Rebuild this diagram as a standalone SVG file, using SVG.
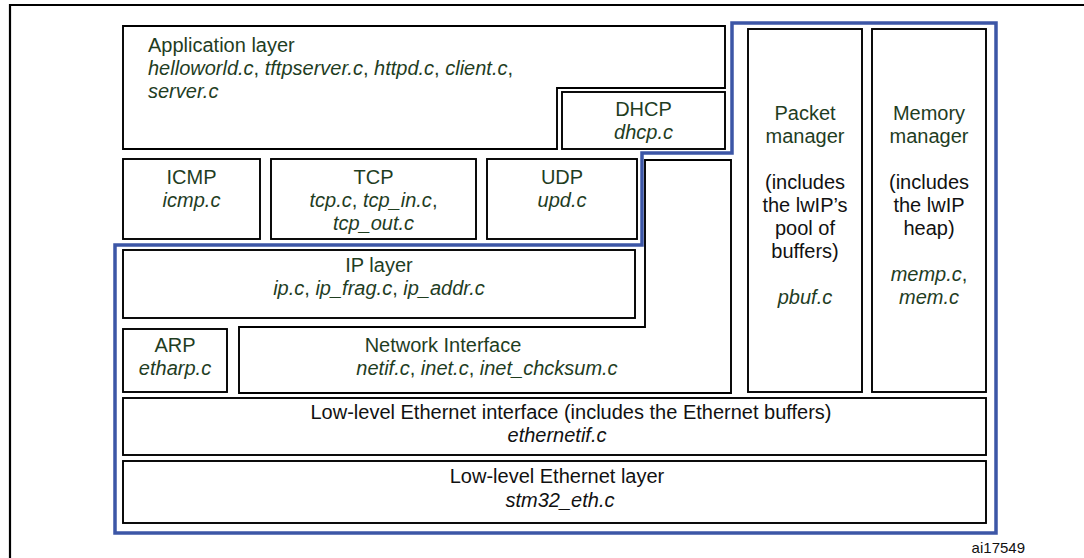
<svg xmlns="http://www.w3.org/2000/svg" width="1084" height="558" viewBox="0 0 1084 558">
<style>
text{font-family:"Liberation Sans",Arial,sans-serif;font-size:20px;fill:#1f3d1f}
.c{text-anchor:middle}
.i{font-style:italic}
.k{fill:#111}
.box{fill:#fff;stroke:#000;stroke-width:1.9}
.frame{fill:none;stroke:#000;stroke-width:2.2}
.blue{fill:none;stroke:#3c56a6;stroke-width:3.5}
</style>
<rect width="1084" height="558" fill="#fff"/>
<path class="frame" d="M10 558 V5 H1084"/>

<g id="application">
<path class="box" d="M123 26 H725 V88 H557 V149 H123 Z"/>
<text x="148" y="52">Application layer</text>
<text x="148" y="75"><tspan class="i">helloworld.c</tspan>, <tspan class="i">tftpserver.c</tspan>, <tspan class="i">httpd.c</tspan>, <tspan class="i">client.c</tspan>,</text>
<text x="148" y="98" class="i">server.c</text>
</g>

<g id="dhcp">
<rect class="box" x="562" y="92" width="163" height="57"/>
<text class="c" x="643.5" y="116">DHCP</text>
<text class="c i" x="643.5" y="139">dhcp.c</text>
</g>

<g id="icmp">
<rect class="box" x="123" y="159" width="137" height="80"/>
<text class="c" x="191.5" y="184">ICMP</text>
<text class="c i" x="191.5" y="207">icmp.c</text>
</g>

<g id="tcp">
<rect class="box" x="271" y="159" width="205" height="80"/>
<text class="c" x="373.5" y="184">TCP</text>
<text class="c" x="373.5" y="207"><tspan class="i">tcp.c</tspan>, <tspan class="i">tcp_in.c</tspan>,</text>
<text class="c i" x="373.5" y="230">tcp_out.c</text>
</g>

<g id="udp">
<rect class="box" x="487" y="159" width="150" height="80"/>
<text class="c" x="562" y="184">UDP</text>
<text class="c i" x="562" y="207">upd.c</text>
</g>

<g id="ip">
<rect class="box" x="123" y="250" width="512" height="68"/>
<text class="c" x="379" y="272">IP layer</text>
<text class="c" x="379" y="295"><tspan class="i">ip.c</tspan>, <tspan class="i">ip_frag.c</tspan>, <tspan class="i">ip_addr.c</tspan></text>
</g>

<g id="netif">
<path class="box" d="M239 327 H645 V160 H731 V393 H239 Z"/>
<text class="c" x="443" y="352">Network Interface</text>
<text class="c" x="487" y="375"><tspan class="i">netif.c</tspan>, <tspan class="i">inet.c</tspan>, <tspan class="i">inet_chcksum.c</tspan></text>
</g>

<g id="arp">
<rect class="box" x="123" y="329" width="104" height="63"/>
<text class="c" x="175" y="352">ARP</text>
<text class="c i" x="175" y="375">etharp.c</text>
</g>

<g id="packet-manager">
<rect class="box" x="748" y="29" width="114" height="363"/>
<text class="c" x="805" y="120">Packet</text>
<text class="c" x="805" y="143">manager</text>
<text class="c k" x="805" y="189">(includes</text>
<text class="c k" x="805" y="212">the lwIP’s</text>
<text class="c k" x="805" y="235">pool of</text>
<text class="c k" x="805" y="258">buffers)</text>
<text class="c i" x="805" y="304">pbuf.c</text>
</g>

<g id="memory-manager">
<rect class="box" x="872" y="29" width="114" height="363"/>
<text class="c" x="929" y="120">Memory</text>
<text class="c" x="929" y="143">manager</text>
<text class="c k" x="929" y="189">(includes</text>
<text class="c k" x="929" y="212">the lwIP</text>
<text class="c k" x="929" y="235">heap)</text>
<text class="c" x="929" y="281"><tspan class="i">memp.c</tspan>,</text>
<text class="c i" x="929" y="304">mem.c</text>
</g>

<g id="eth-interface">
<rect class="box" x="123" y="398" width="863" height="57"/>
<text class="c k" x="571" y="419">Low-level Ethernet interface (includes the Ethernet buffers)</text>
<text class="c k i" x="557" y="442">ethernetif.c</text>
</g>

<g id="eth-layer">
<rect class="box" x="123" y="461" width="863" height="62"/>
<text class="c k" x="557" y="483">Low-level Ethernet layer</text>
<text class="c k i" x="560" y="507">stm32_eth.c</text>
</g>

<g id="lwip-boundary">
<path class="blue" d="M732 23 H996 V533 H115 V245 H642 V153 H732 Z"/>
</g>

<text class="k" x="1025" y="553" style="font-size:15px;text-anchor:end">ai17549</text>
</svg>
